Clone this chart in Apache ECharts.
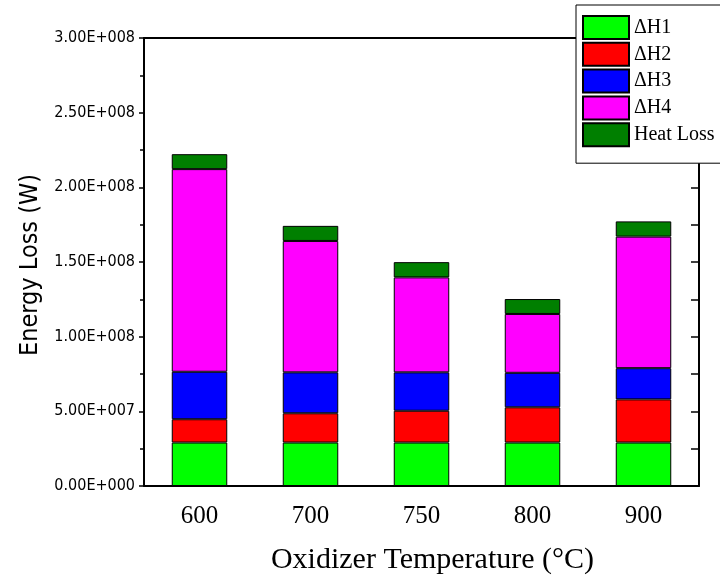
<!DOCTYPE html>
<html><head><meta charset="utf-8">
<script src="https://cdn.jsdelivr.net/npm/echarts@6/dist/echarts.min.js"></script>
<style>html,body{margin:0;padding:0;background:#fff}#c{width:720px;height:580px}</style>
</head><body><div id="c"></div>
<script>
var categories = ['600', '700', '750', '800', '900'];
var seriesNames = ['\u0394H1', '\u0394H2', '\u0394H3', '\u0394H4', 'Heat Loss'];
var dH1 = [2.91e7, 2.91e7, 2.91e7, 2.91e7, 2.91e7];
var dH2 = [1.56e7, 1.96e7, 2.13e7, 2.36e7, 2.89e7];
var dH3 = [3.18e7, 2.74e7, 2.57e7, 2.31e7, 2.09e7];
var dH4 = [1.357e8, 8.80e7, 6.36e7, 3.94e7, 8.81e7];
var heatLoss = [1.00e7, 1.01e7, 1.02e7, 1.00e7, 1.02e7];
var colors = ['#00ff00', '#ff0000', '#0000ff', '#ff00ff', '#007f00'];

function fmt(v) {
  if (v === 0) return '0.00E+000';
  var e = Math.floor(Math.log10(v) + 1e-9);
  var m = v / Math.pow(10, e);
  var s = String(e);
  while (s.length < 3) s = '0' + s;
  return m.toFixed(2) + 'E+' + s;
}

var chart = echarts.init(document.getElementById('c'));
var values = [dH1, dH2, dH3, dH4, heatLoss];
var series = values.map(function (d, i) {
  return {
    name: seriesNames[i], type: 'bar', stack: 'total', data: d,
    barWidth: '50%', xAxisIndex: 0, yAxisIndex: 0,
    itemStyle: { color: colors[i], borderColor: '#000', borderWidth: 1 }
  };
});

var sansC = '"DejaVu Sans Condensed", "DejaVu Sans", sans-serif';

chart.setOption({
  animation: false,
  grid: { left: 144, right: 21, top: 38, bottom: 93, containLabel: false },
  legend: {
    orient: 'vertical', left: 576, top: 5,
    padding: [10, 8, 16, 6],
    itemWidth: 46, itemHeight: 23, itemGap: 1.8, icon: 'rect',
    backgroundColor: '#fff', borderColor: '#000', borderWidth: 1,
    textStyle: { fontFamily: 'Liberation Serif', fontSize: 20, lineHeight: 23, color: '#000' },
    data: seriesNames, z: 10
  },
  xAxis: [
    {
      type: 'category', data: categories, position: 'bottom',
      axisLine: { lineStyle: { color: '#000', width: 2 } },
      axisTick: { inside: true, alignWithLabel: true, length: 8, lineStyle: { color: '#000', width: 2 } },
      axisLabel: { color: '#000', fontFamily: 'Liberation Serif', fontSize: 25, margin: 18 },
      name: 'Oxidizer Temperature (\u00B0C)', nameLocation: 'middle', nameGap: 59,
      nameTextStyle: { color: '#000', fontFamily: 'Liberation Serif', fontSize: 30, padding: [0, 0, 0, 22] },
      splitLine: { show: false }
    },
    {
      type: 'category', data: categories, position: 'bottom',
      axisLine: { show: false },
      axisTick: { inside: true, length: 5, lineStyle: { color: '#000', width: 2 } },
      axisLabel: { show: false }, splitLine: { show: false }
    },
    {
      type: 'category', data: categories, position: 'top',
      axisLine: { lineStyle: { color: '#000', width: 2 } },
      axisTick: { show: false }, axisLabel: { show: false }, splitLine: { show: false }
    }
  ],
  yAxis: [
    {
      type: 'value', min: 0, max: 3e8, interval: 5e7, position: 'left',
      axisLine: { show: true, lineStyle: { color: '#000', width: 2 } },
      axisTick: { show: true, length: 5, lineStyle: { color: '#000', width: 1.5 } },
      minorTick: { show: true, splitNumber: 2, length: 4, lineStyle: { color: '#000', width: 1.5 } },
      axisLabel: { color: '#000', fontFamily: sansC, fontSize: 16, margin: 9, formatter: fmt },
      splitLine: { show: false },
      name: 'Energy Loss (W)', nameLocation: 'middle', nameGap: 100,
      nameTextStyle: { color: '#000', fontFamily: sansC, fontSize: 25, padding: [0, 6, 0, 0] }
    },
    {
      type: 'value', min: 0, max: 3e8, interval: 2.5e7, position: 'right',
      axisLine: { show: true, lineStyle: { color: '#000', width: 2 } },
      axisTick: { show: true, inside: true, length: 8, lineStyle: { color: '#000', width: 1.5 } },
      axisLabel: { show: false }, splitLine: { show: false }
    }
  ],
  series: series
});
</script></body></html>
